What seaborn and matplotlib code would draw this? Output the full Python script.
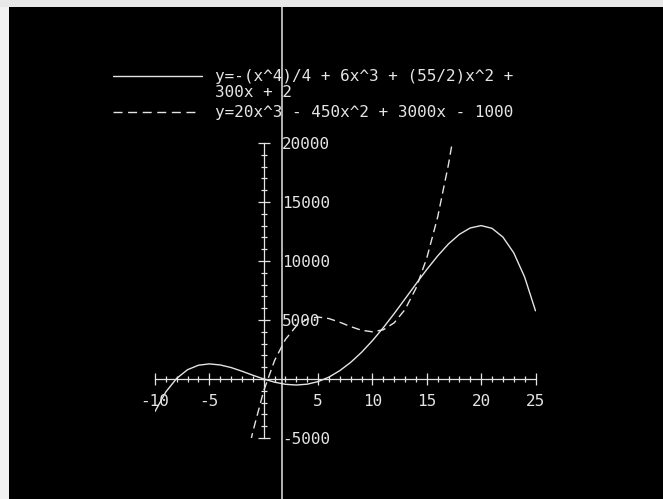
import matplotlib
matplotlib.use("Agg")
import matplotlib.pyplot as plt
import seaborn as sns
import pandas as pd
from matplotlib.lines import Line2D
from matplotlib.patches import Rectangle
from matplotlib.ticker import FixedLocator, MultipleLocator, FixedFormatter

# ---- data ----
quartic_x = list(range(-10, 26))
quartic_y = [-2750, -1090, 60, 790, 1170, 1280, 1190, 970, 660, 320,
             0, -270, -450, -510, -440, -220, 160, 710, 1410, 2260,
             3250, 4350, 5540, 6790, 8050, 9280, 10430, 11450, 12260, 12800,
             13000, 12770, 12030, 10690, 8640, 5780]

cubic_x = [-1.2, -1, 0, 1, 2, 3, 4, 5, 6, 7, 8, 9, 10, 11, 12, 13, 14, 15, 16, 17, 17.5]
cubic_y = [-5280, -4470, -1000, 1570, 3360, 4490, 5080, 5250, 5120, 4810,
           4440, 4130, 4000, 4170, 4760, 5890, 7680, 10250, 13720, 18210, 20880]

x_tick_values = [-10, -5, 5, 10, 15, 20, 25]
x_tick_labels = ["-10", "-5", "5", "10", "15", "20", "25"]
y_tick_values = [-5000, 5000, 10000, 15000, 20000]
y_tick_labels = ["-5000", "5000", "10000", "15000", "20000"]

label_quartic = "y=-(x^4)/4 + 6x^3 + (55/2)x^2 +\n300x + 2"
label_cubic = "y=20x^3 - 450x^2 + 3000x - 1000"

# ---- style ----
sns.set_theme(style="dark", rc={
    "axes.facecolor": "black",
    "figure.facecolor": "black",
    "axes.grid": False,
    "axes.unicode_minus": False,
    "lines.scale_dashes": False,
    "xtick.bottom": True,
    "ytick.left": True,
})
plt.rcParams["font.family"] = ["DejaVu Sans Mono", "DejaVu Sans"]

FG = "#e4e4e4"
W, H = 663, 499
FS = 11.5

fig = plt.figure(figsize=(W / 100, H / 100), dpi=100)
fig.patch.set_facecolor("black")

def fx(px):
    return px / W

def fy(py):
    return 1 - py / H

ax = fig.add_axes([fx(155), fy(438), 380.5 / W, 295 / H])
ax.set_facecolor("none")

df_q = pd.DataFrame({"x": quartic_x, "y": quartic_y})
df_c = pd.DataFrame({"x": cubic_x, "y": cubic_y})
sns.lineplot(data=df_q, x="x", y="y", ax=ax, color=FG, lw=1.0, sort=False, estimator=None)
sns.lineplot(data=df_c, x="x", y="y", ax=ax, color=FG, lw=1.0, sort=False, estimator=None,
             linestyle=(0, (6, 3.5)))

ax.set_xlim(-10, 25)
ax.set_ylim(-5000, 20000)
ax.set_xlabel("")
ax.set_ylabel("")

ax.spines["top"].set_visible(False)
ax.spines["left"].set_position(("data", 0))
ax.spines["bottom"].set_position(("data", 0))
ax.spines["right"].set_position(("data", 0))
ax.spines["right"].set_visible(False)
for s in ["left", "bottom"]:
    ax.spines[s].set_color(FG)
    ax.spines[s].set_linewidth(0.9)

ax.xaxis.set_major_locator(FixedLocator(x_tick_values))
ax.xaxis.set_major_formatter(FixedFormatter(x_tick_labels))
ax.xaxis.set_minor_locator(MultipleLocator(1))
ax.yaxis.set_major_locator(FixedLocator(y_tick_values))
ax.yaxis.set_major_formatter(FixedFormatter(y_tick_labels))
ax.yaxis.set_minor_locator(MultipleLocator(1000))

ax.tick_params(axis="both", which="both", direction="inout", colors=FG, width=0.9)
ax.tick_params(axis="both", which="major", length=8.6, labelsize=FS, labelcolor=FG)
ax.tick_params(axis="both", which="minor", length=5)
ax.tick_params(axis="x", which="both", bottom=True, top=False, labelbottom=True)
ax.tick_params(axis="x", which="major", pad=6.5)
ax.tick_params(axis="y", which="both", left=True, right=False, labelleft=False, labelright=True)
ax.tick_params(axis="y", which="major", pad=8.9)

# ---- legend (drawn in figure space to match the terminal layout) ----
fig.add_artist(Line2D([fx(113), fx(202)], [fy(75.7), fy(75.7)], color=FG, lw=1.0,
                      transform=fig.transFigure))
fig.add_artist(Line2D([fx(113), fx(200)], [fy(111.5), fy(111.5)], color=FG, lw=1.0,
                      linestyle=(0, (6.5, 4)), transform=fig.transFigure))
fig.text(fx(215), fy(82.4), label_quartic, color=FG, fontsize=FS, ha="left",
         va="center_baseline", linespacing=1.07)
fig.text(fx(215), fy(111.5), label_cubic, color=FG, fontsize=FS, ha="left",
         va="center_baseline")

# ---- photo frame and screen cursor line ----
fig.add_artist(Rectangle((0, 0), fx(9), 1, transform=fig.transFigure,
                         facecolor="#f2f2f2", edgecolor="none"))
fig.add_artist(Rectangle((0, fy(6.5)), 1, 6.5 / H, transform=fig.transFigure,
                         facecolor="#e8e8e8", edgecolor="none"))
fig.add_artist(Line2D([fx(282), fx(282)], [0, fy(6.5)], color=FG, lw=1.1,
                      transform=fig.transFigure))

fig.savefig("out.png", dpi=100, facecolor=fig.get_facecolor())
